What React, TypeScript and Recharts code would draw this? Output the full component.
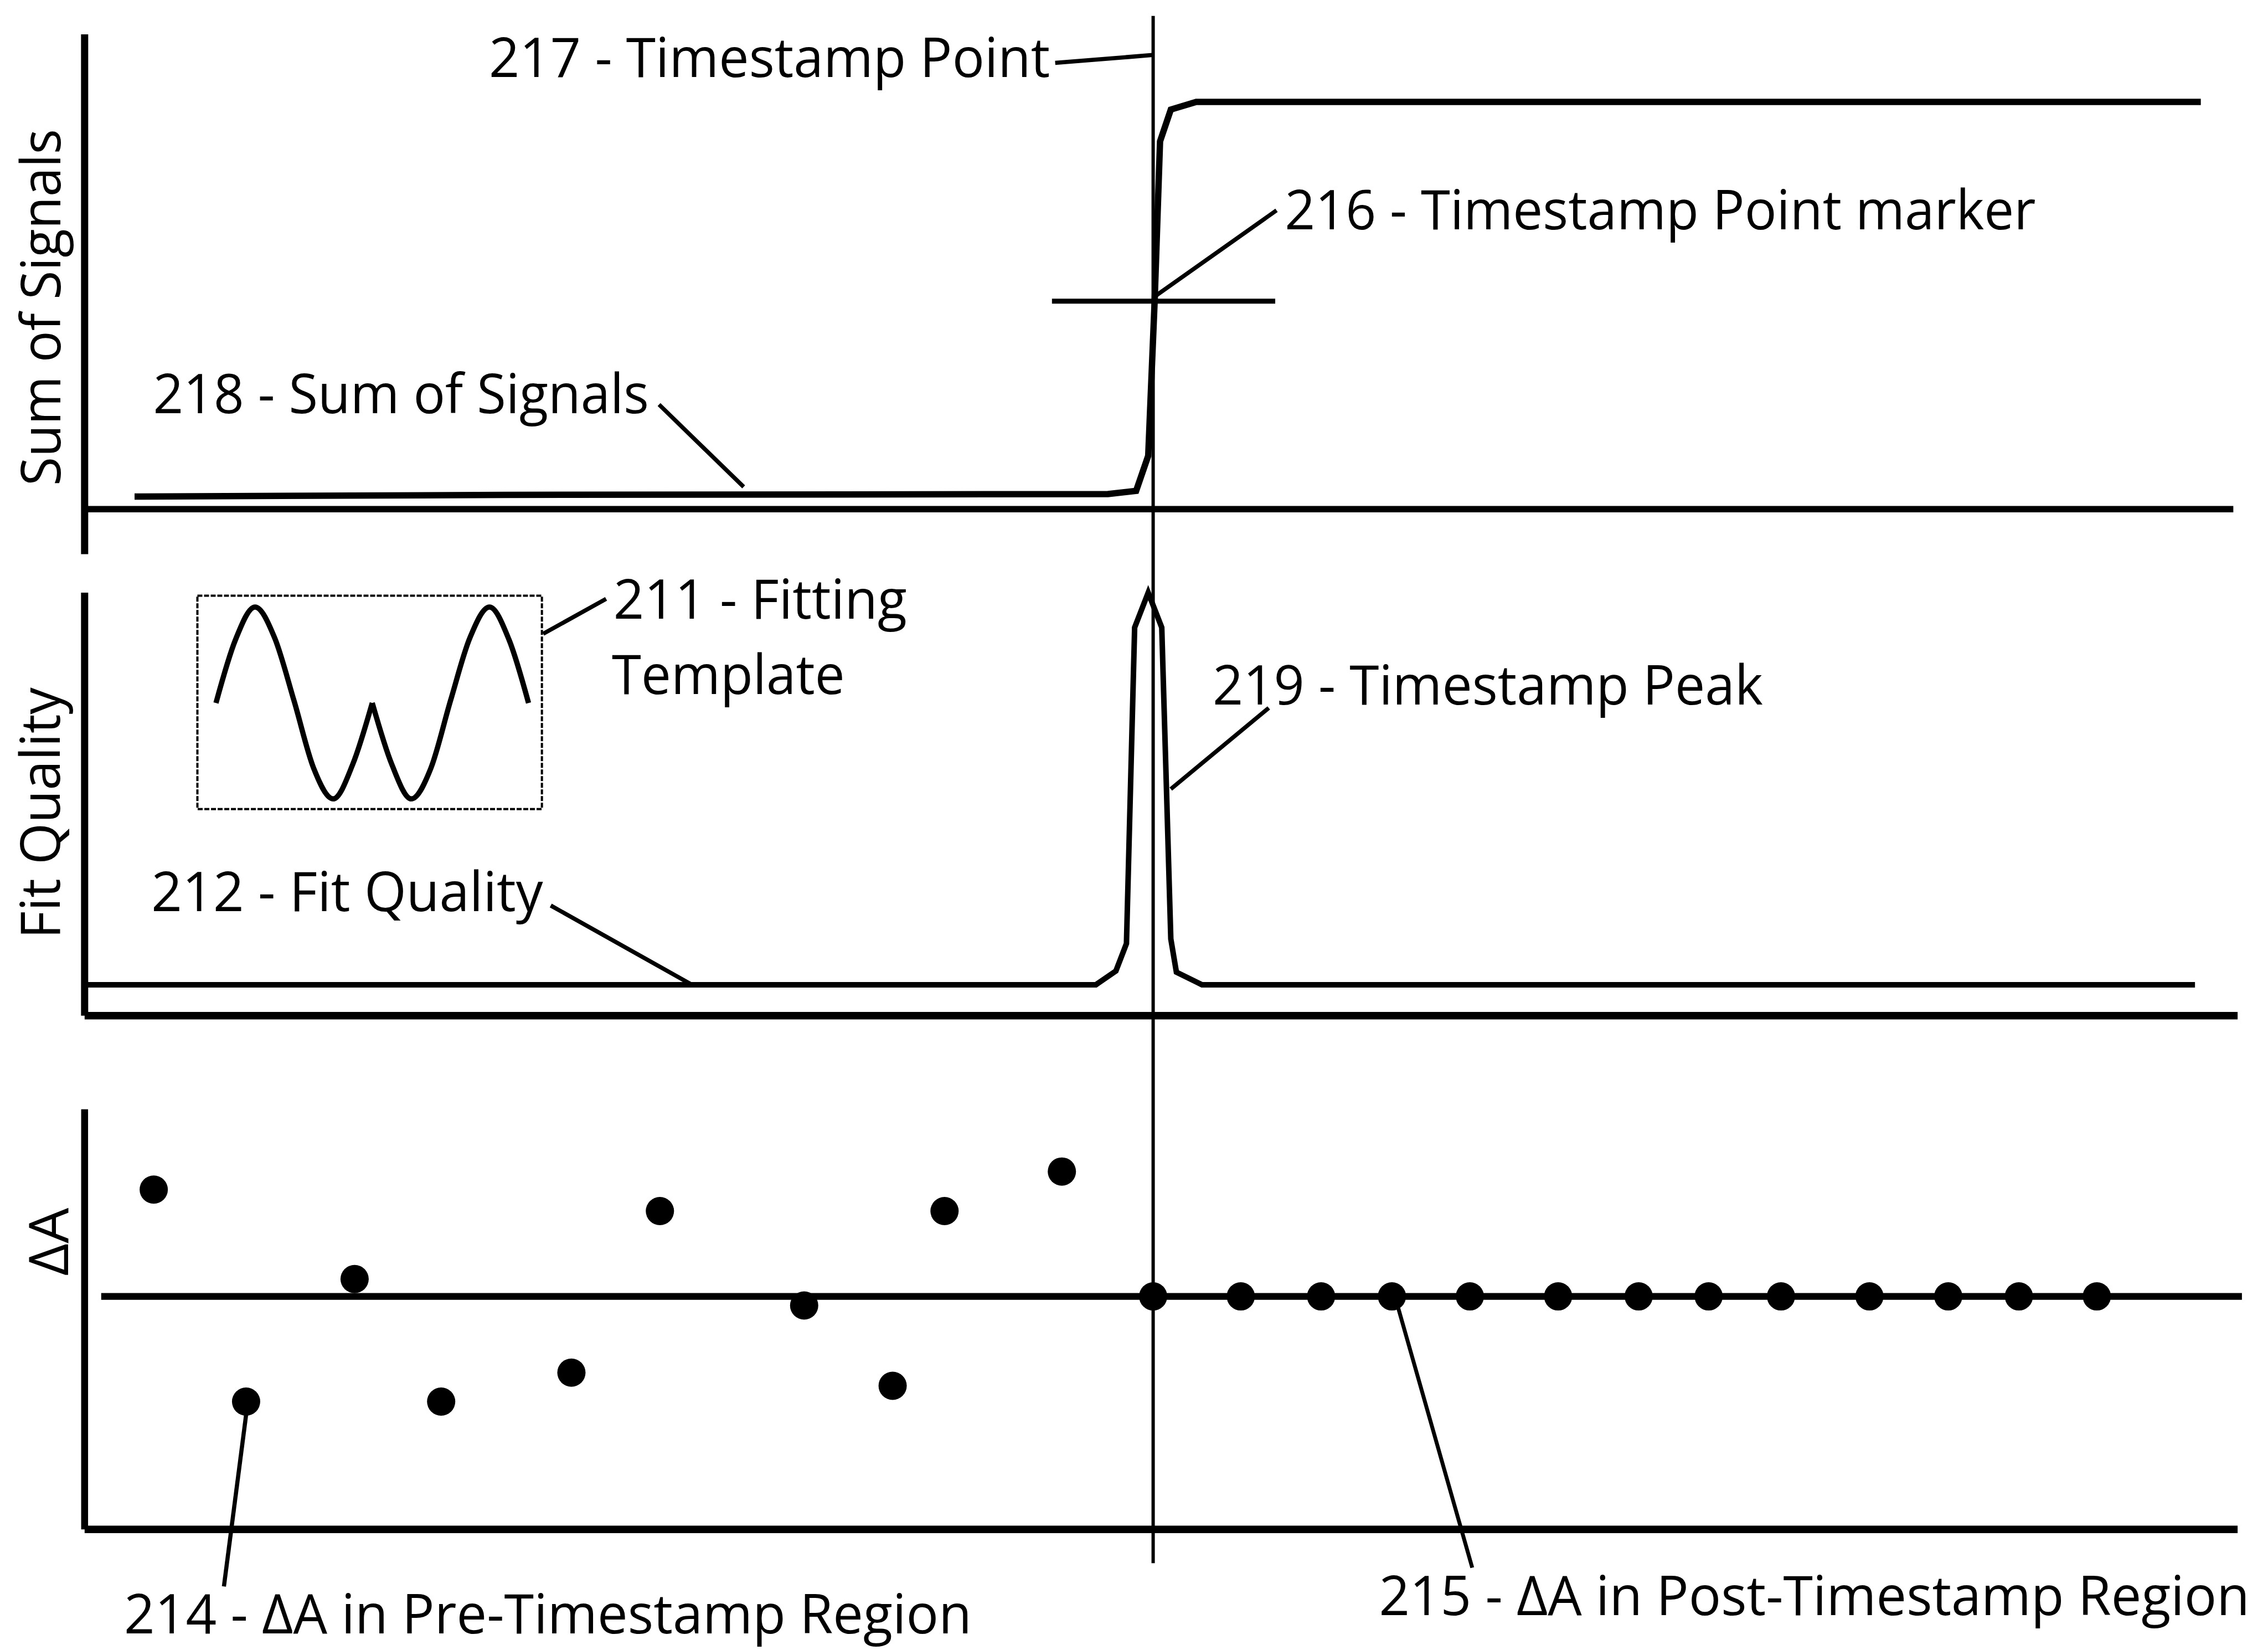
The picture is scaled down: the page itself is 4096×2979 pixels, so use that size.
import React from 'react'
import {ComposedChart, LineChart, Line, Scatter, XAxis, YAxis, ReferenceLine, ReferenceDot, ReferenceArea} from 'recharts'

// time axis (arbitrary sample units) shared by the three panels
const TIME_DOMAIN = [0, 1000]
const TIMESTAMP = 496.3

// 218 - Sum of Signals
const sumTimes = [23.2, 195, 475.3, 488.4, 494.0, 497.0, 499.5, 504.5, 516.3, 982.9]
const sumValues = [0.031, 0.035, 0.037, 0.045, 0.131, 0.512, 0.903, 0.981, 1.0, 1.0]

// 212 - Fit Quality
const fitTimes = [1.0, 469.7, 479.0, 483.9, 487.7, 494.0, 500.3, 504.5, 507.1, 519.0, 980.2]
const fitValues = [0, 0, 0.035, 0.105, 0.911, 1.0, 0.911, 0.117, 0.032, 0, 0]

// 214 - dA before the timestamp
const preTimes = [32.1, 75.0, 125.4, 165.6, 226.1, 267.2, 334.2, 375.3, 399.4, 453.9]
const preValues = [1.476, -1.454, 0.24, -1.454, -1.054, 1.18, -0.126, -1.236, 1.18, 1.726]

// 215 - dA after the timestamp
const postTimes = [496.3, 537.0, 574.3, 607.2, 643.4, 684.4, 721.8, 754.3, 787.9, 829.0, 865.6, 898.4, 934.6]
const postValues = [0, 0, 0, 0, 0, 0, 0, 0, 0, 0, 0, 0, 0]

// 211 - fitting template (two halves meeting at the cusp)
const templateLeftU = [0, 1, 2, 3, 4, 5, 6, 7, 8]
const templateLeftV = [0, 0.66, 1, 0.68, 0.02, -0.68, -1, -0.64, 0]
const templateRightU = [8, 9, 10, 11, 12, 13, 14, 15, 16]
const templateRightV = [0, -0.64, -1, -0.68, 0.02, 0.68, 1, 0.66, 0]

const sumData = sumTimes.map((t, i) => ({t, s: sumValues[i]}))
const fitData = fitTimes.map((t, i) => ({t, f: fitValues[i]}))
const preData = preTimes.map((t, i) => ({t, v: preValues[i]}))
const postData = postTimes.map((t, i) => ({t, v: postValues[i]}))
const tplLeft = templateLeftU.map((u, i) => ({u, v: templateLeftV[i]}))
const tplRight = templateRightU.map((u, i) => ({u, v: templateRightV[i]}))

const W = 4096
const H = 2979
const LEFT = 152.82
const RIGHT = 54.86
const FONT = "'Open Sans', 'Noto Sans', sans-serif"
const FONT_SIZE = 98

const labelText = (text: string, length: number, vertical = false) => (props: any) => {
    const vb = props.viewBox || {}
    const x = vb.x ?? 0
    const y = vb.y ?? 0
    return (
        <text x={x} y={y} fill='#000' fontFamily={FONT} fontSize={FONT_SIZE}
              textAnchor={vertical ? 'middle' : 'start'}
              transform={vertical ? `rotate(-90 ${x} ${y})` : undefined}
              textLength={length} lengthAdjust='spacingAndGlyphs'>{text}</text>
    )
}

const Tag = (x: number, y: number, text: string, length: number, vertical = false) => (
    <ReferenceDot key={text} x={x} y={y} r={0} fill='none' stroke='none' ifOverflow='visible'
                  label={labelText(text, length, vertical)} />
)

const Leader = (a: number[], b: number[], width = 7.5) => (
    <ReferenceLine key={`${a[0]}-${a[1]}-${b[0]}`} segment={[{x: a[0], y: a[1]}, {x: b[0], y: b[1]}]}
                   stroke='#000' strokeWidth={width} ifOverflow='visible' />
)

const layer: React.CSSProperties = {position: 'absolute', left: 0, top: 0}

const Dot = (props: any) => <circle cx={props.cx} cy={props.cy} r={25.5} fill='#000' />

// axes get 1px of room so that Recharts draws their lines
const yAxisProps = {width: 1, tick: false, tickLine: false} as const
const xAxisProps = {height: 1, tick: false, tickLine: false} as const

export default function App() {
    return (
        <div style={{position: 'absolute', left: 0, top: 0, width: W, height: H, background: '#fff'}}>
            {/* top panel: sum of signals */}
            <div style={layer}>
                <ComposedChart width={W} height={H} data={sumData}
                               margin={{top: 61.91, bottom: 1978.51, left: LEFT - 1, right: RIGHT}}>
                    <XAxis type='number' dataKey='t' domain={TIME_DOMAIN} hide />
                    <YAxis type='number' domain={[-0.1105, 1.1659]} {...yAxisProps}
                           axisLine={{stroke: '#000', strokeWidth: 13}} />
                    {Leader([0, 0], [998, 0], 11.5)}
                    <Line type='linear' dataKey='s' stroke='#000' strokeWidth={11.5} dot={false}
                          activeDot={false} isAnimationActive={false} />
                    {Leader([449.3, 0.5105], [553.0, 0.5105], 9)}
                    {Leader([450.8, 1.0956], [496.1, 1.115])}
                    {Leader([497.0, 0.522], [553.6, 0.7336])}
                    {Leader([266.8, 0.2568], [306.1, 0.0547])}
                    {Tag(187.8, 1.0604, '217 - Timestamp Point', 1013.3)}
                    {Tag(557.4, 0.6877, '216 - Timestamp Point marker', 1356.5)}
                    {Tag(31.8, 0.2362, '218 - Sum of Signals', 895.5)}
                    {Tag(-11.15, 0.4952, 'Sum of Signals', 643.9, true)}
                </ComposedChart>
            </div>

            {/* middle panel: fit quality */}
            <div style={layer}>
                <ComposedChart width={W} height={H} data={fitData}
                               margin={{top: 1069.97, bottom: 1145.2 - 1, left: LEFT - 1, right: RIGHT}}>
                    <XAxis type='number' dataKey='t' domain={TIME_DOMAIN} {...xAxisProps}
                           axisLine={{stroke: '#000', strokeWidth: 13.5}} />
                    <YAxis type='number' domain={[-0.079, 1.0]} {...yAxisProps}
                           axisLine={{stroke: '#000', strokeWidth: 13}} />
                    <Line type='linear' dataKey='f' stroke='#000' strokeWidth={10} dot={false}
                          activeDot={false} isAnimationActive={false} />
                    {Leader([213.0, 0.895], [242.2, 0.984])}
                    {Leader([550.0, 0.706], [504.5, 0.499])}
                    {Leader([216.5, 0.202], [282.7, -0.002])}
                    {Tag(245.6, 0.9339, '211 - Fitting', 530)}
                    {Tag(244.9, 0.741, 'Template', 420.6)}
                    {Tag(523.9, 0.7144, '219 - Timestamp Peak', 994)}
                    {Tag(31.0, 0.1878, '212 - Fit Quality', 707.4)}
                    {Tag(-11.62, 0.4376, 'Fit Quality', 453.7, true)}
                </ComposedChart>
            </div>

            {/* bottom panel: delta A, carrying the 217 timestamp line that runs through all panels */}
            <div style={layer}>
                <ComposedChart width={W} height={H}
                               margin={{top: 2002.81, bottom: 217.86 - 1, left: LEFT - 1, right: RIGHT}}>
                    <XAxis type='number' dataKey='t' domain={TIME_DOMAIN} {...xAxisProps}
                           axisLine={{stroke: '#000', strokeWidth: 13.5}} />
                    <YAxis type='number' dataKey='v' domain={[-3.22, 2.586]} {...yAxisProps}
                           axisLine={{stroke: '#000', strokeWidth: 12.5}} />
                    {Leader([TIMESTAMP, 17.70], [TIMESTAMP, -3.688], 6)}
                    {Leader([7.7, 0], [1002, 0], 12.3)}
                    <Scatter data={preData} dataKey='v' shape={Dot} isAnimationActive={false} />
                    <Scatter data={postData} dataKey='v' shape={Dot} isAnimationActive={false} />
                    {Leader([75.0, -1.638], [64.7, -4.01])}
                    {Leader([609.8, -0.126], [644.5, -3.75], 7)}
                    {Tag(18.3, -4.655, '214 - \u0394A in Pre-Timestamp Region', 1531)}
                    {Tag(601.2, -4.402, '215 - \u0394A in Post-Timestamp Region', 1572.3)}
                    {Tag(-7.73, 0.754, '\u0394A', 122.8, true)}
                </ComposedChart>
            </div>

            {/* 211 - fitting template inset */}
            <div style={{position: 'absolute', left: 353.7, top: 1072.59}}>
                <LineChart width={627.2} height={390.27} margin={{top: 22.99, bottom: 20.9, left: 36.05, right: 26.64}}>
                    <XAxis type='number' dataKey='u' domain={[0, 16]} hide />
                    <YAxis type='number' domain={[-1, 1]} hide />
                    <ReferenceArea x1={-0.951} x2={16.684} y1={-1.106} y2={1.118} fill='none' fillOpacity={0}
                                   stroke='#000' strokeWidth={4} strokeDasharray='9 3' ifOverflow='visible' />
                    <Line data={tplLeft} type='monotone' dataKey='v' stroke='#000' strokeWidth={9.5}
                          dot={false} activeDot={false} isAnimationActive={false} />
                    <Line data={tplRight} type='monotone' dataKey='v' stroke='#000' strokeWidth={9.5}
                          dot={false} activeDot={false} isAnimationActive={false} />
                </LineChart>
            </div>
        </div>
    )
}
